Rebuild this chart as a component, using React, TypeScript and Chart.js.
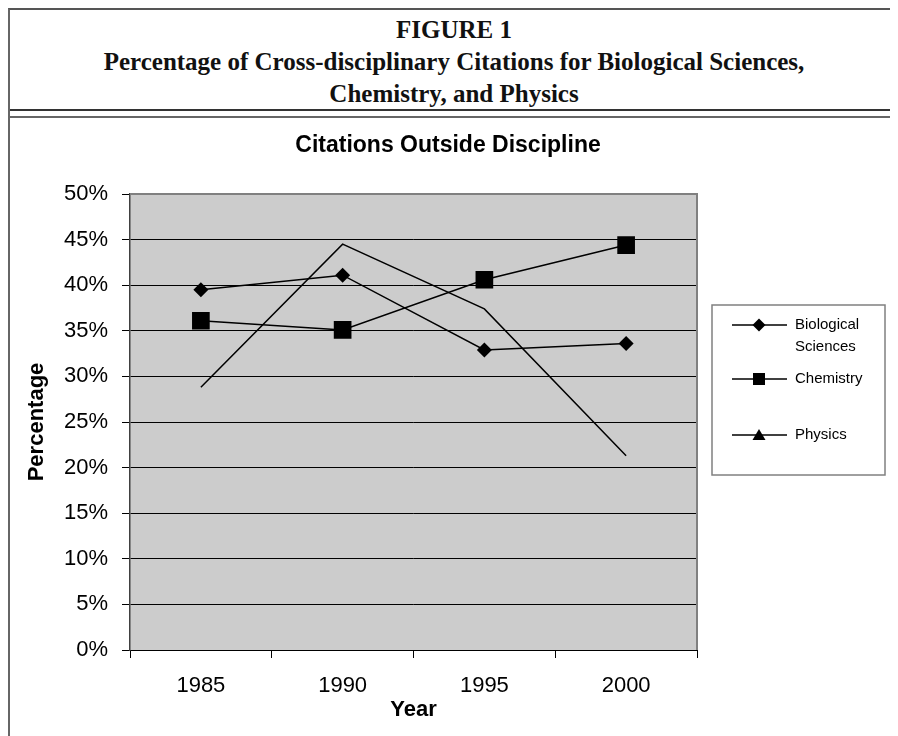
import React, { useEffect, useRef } from "react";
import { Chart, registerables } from "chart.js";

Chart.register(...registerables);

const headerLines = [
  "FIGURE 1",
  "Percentage of Cross-disciplinary Citations for Biological Sciences,",
  "Chemistry, and Physics",
];
const chartTitle = "Citations Outside Discipline";
const xAxisTitle = "Year";
const yAxisTitle = "Percentage";

const years = ["1985", "1990", "1995", "2000"];
const biological = [39.5, 41.1, 32.9, 33.6];
const chemistry = [36.1, 35.1, 40.6, 44.4];
const physics = [28.8, 44.5, 37.4, 21.3];

const seriesNames = ["Biological Sciences", "Chemistry", "Physics"];
const legendLines = [["Biological", "Sciences"], ["Chemistry"], ["Physics"]];
const legendMarkers = ["diamond", "square", "triangle"];

const yMin = 0;
const yMax = 50;
const yStep = 5;

const SANS = "'Liberation Sans', Arial, sans-serif";

const bgPlugin = {
  id: "plotBg",
  beforeDraw(chart: any) {
    const { ctx, chartArea: a } = chart;
    ctx.save();
    ctx.fillStyle = "#cccccc";
    ctx.fillRect(a.left, a.top, a.right - a.left, a.bottom - a.top);
    ctx.restore();
  },
  afterDatasetsDraw(chart: any) {
    const { ctx, chartArea: a } = chart;
    ctx.save();
    ctx.strokeStyle = "#808080";
    ctx.lineWidth = 2;
    ctx.beginPath();
    ctx.moveTo(a.left, a.top);
    ctx.lineTo(a.right, a.top);
    ctx.lineTo(a.right, a.bottom);
    ctx.stroke();
    ctx.restore();
  },
};

const titlePlugin = {
  id: "customTitle",
  afterDraw(chart: any) {
    const { ctx } = chart;
    ctx.save();
    ctx.fillStyle = "#000";
    ctx.font = `bold 23px ${SANS}`;
    ctx.textAlign = "center";
    ctx.textBaseline = "middle";
    ctx.fillText(chartTitle, 438, 28);
    ctx.restore();
  },
};

function drawMarker(ctx: CanvasRenderingContext2D, kind: string, x: number, y: number) {
  ctx.beginPath();
  if (kind === "diamond") {
    ctx.moveTo(x, y - 6.5);
    ctx.lineTo(x + 6.5, y);
    ctx.lineTo(x, y + 6.5);
    ctx.lineTo(x - 6.5, y);
  } else if (kind === "square") {
    ctx.rect(x - 6, y - 6, 12, 12);
  } else {
    ctx.moveTo(x, y - 6);
    ctx.lineTo(x + 6.5, y + 5);
    ctx.lineTo(x - 6.5, y + 5);
  }
  ctx.closePath();
  ctx.fill();
}

const legendPlugin = {
  id: "boxLegend",
  afterDraw(chart: any) {
    const { ctx, chartArea: a } = chart;
    const bx = a.right + 15;
    const by = a.top + 111;
    const bw = 173;
    const bh = 170;
    ctx.save();
    ctx.fillStyle = "#fff";
    ctx.fillRect(bx, by, bw, bh);
    ctx.strokeStyle = "#808080";
    ctx.lineWidth = 1.5;
    ctx.strokeRect(bx, by, bw, bh);
    const rows = [20, 74, 130];
    chart.data.datasets.forEach((ds: any, i: number) => {
      const y = by + rows[i];
      ctx.strokeStyle = "#000";
      ctx.lineWidth = 1.5;
      ctx.beginPath();
      ctx.moveTo(bx + 20, y);
      ctx.lineTo(bx + 75, y);
      ctx.stroke();
      ctx.fillStyle = "#000";
      drawMarker(ctx, legendMarkers[i], bx + 47, y);
      ctx.font = `15px ${SANS}`;
      ctx.textAlign = "left";
      ctx.textBaseline = "middle";
      legendLines[i].forEach((t, j) => {
        ctx.fillText(t, bx + 83, y + j * 22);
      });
    });
    ctx.restore();
  },
};

function ChartCanvas() {
  const ref = useRef<HTMLCanvasElement | null>(null);
  useEffect(() => {
    if (!ref.current) return;
    const chart = new Chart(ref.current, {
      type: "line",
      data: {
        labels: years,
        datasets: [
          {
            label: seriesNames[0],
            data: biological,
            borderColor: "#000",
            backgroundColor: "#000",
            borderWidth: 1.5,
            pointStyle: "rectRot",
            pointRadius: 7.5,
            pointBorderWidth: 0,
            tension: 0,
          },
          {
            label: seriesNames[1],
            data: chemistry,
            borderColor: "#000",
            backgroundColor: "#000",
            borderWidth: 1.5,
            pointStyle: "rect",
            pointRadius: 12.5,
            pointBorderWidth: 0,
            tension: 0,
          },
          {
            label: seriesNames[2],
            data: physics,
            borderColor: "#000",
            backgroundColor: "#000",
            borderWidth: 1.5,
            pointRadius: 0,
            tension: 0,
          },
        ],
      },
      options: {
        responsive: false,
        animation: false,
        devicePixelRatio: 1,
        layout: { padding: { left: 10, right: 201, top: 76, bottom: 0 } },
        plugins: {
          legend: { display: false },
          title: { display: false },
          tooltip: { enabled: false },
        },
        scales: {
          x: {
            type: "category",
            offset: true,
            grid: {
              display: true,
              drawOnChartArea: false,
              drawTicks: true,
              tickLength: 8,
              color: "#000",
              offset: true,
            },
            border: { display: true, color: "#000", width: 1 },
            ticks: {
              color: "#000",
              font: { family: SANS, size: 22 },
              padding: 15,
              maxRotation: 0,
            },
            title: {
              display: true,
              text: xAxisTitle,
              color: "#000",
              font: { family: SANS, size: 22, weight: "bold" },
              padding: { top: 0, bottom: 13 },
            },
            afterFit(scale: any) {
              scale.height = 86;
            },
          },
          y: {
            min: yMin,
            max: yMax,
            ticks: {
              stepSize: yStep,
              color: "#000",
              font: { family: SANS, size: 22 },
              padding: 14,
              callback: (v: any) => `${v}%`,
            },
            grid: {
              color: "#000",
              lineWidth: 1,
              tickLength: 8,
              drawTicks: true,
            },
            border: { display: true, color: "#404040", width: 1.5 },
            title: {
              display: true,
              text: yAxisTitle,
              color: "#000",
              font: { family: SANS, size: 22, weight: "bold" },
              padding: { top: 4, bottom: 0 },
            },
            afterFit(scale: any) {
              scale.width = 110;
            },
          },
        },
      },
      plugins: [bgPlugin, titlePlugin, legendPlugin],
    } as any);
    return () => chart.destroy();
  }, []);
  return (
    <canvas
      ref={ref}
      width={888}
      height={618}
      style={{ position: "absolute", left: 0, top: 108, width: 888, height: 618 }}
    />
  );
}

export default function App() {
  return (
    <div
      style={{
        position: "relative",
        width: 890,
        height: 728,
        overflow: "hidden",
        boxSizing: "border-box",
        borderLeft: "2px solid #666",
        borderTop: "2px solid #555",
      }}
    >
      <div
        style={{
          position: "absolute",
          left: 0,
          right: 0,
          top: 4,
          textAlign: "center",
          fontFamily: "'Liberation Serif', 'Times New Roman', serif",
          fontWeight: "bold",
          fontSize: 25,
          lineHeight: "32px",
          color: "#111",
        }}
      >
        {headerLines.map((t, i) => (
          <div key={i}>{t}</div>
        ))}
      </div>
      <div style={{ position: "absolute", left: 0, right: 0, top: 99, height: 2, background: "#333" }} />
      <div style={{ position: "absolute", left: 0, right: 0, top: 106, height: 2, background: "#666" }} />
      <ChartCanvas />
    </div>
  );
}
